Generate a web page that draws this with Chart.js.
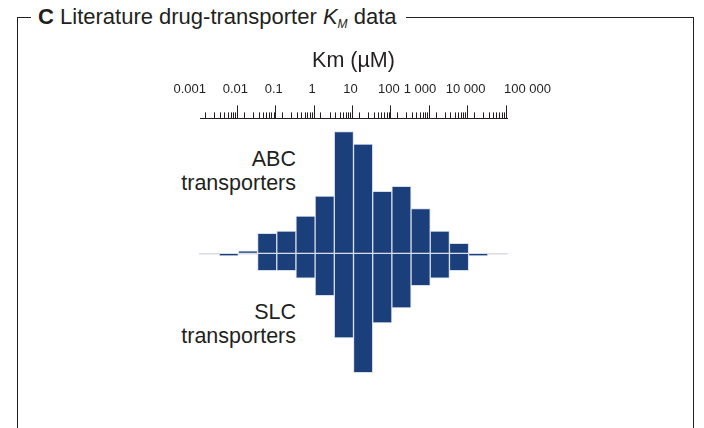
<!DOCTYPE html>
<html>
<head>
<meta charset="utf-8">
<script src="https://cdn.jsdelivr.net/npm/chart.js@4.4.1/dist/chart.umd.min.js"></script>
<style>
html,body{margin:0;padding:0;background:#fff;width:704px;height:428px;overflow:hidden;
  font-family:"Liberation Sans",Arial,Helvetica,sans-serif;color:#231f20;}
fieldset{position:absolute;left:17px;top:5px;width:677px;height:520px;margin:0;padding:0;
  border:1px solid #231f20;box-sizing:border-box;}
legend{margin-left:13px;padding:0 9px 0 7px;font-size:22px;line-height:24px;white-space:nowrap;}
legend sub{font-size:12px;line-height:0;vertical-align:-4px;}
.lbl{position:absolute;right:408px;text-align:right;font-size:21.5px;line-height:24px;white-space:nowrap;}
canvas{position:absolute;left:0;top:0;}
</style>
</head>
<body>
<fieldset><legend><b>C</b> Literature drug-transporter <i>K<sub>M</sub></i> data</legend></fieldset>
<div class="lbl" style="top:147px">ABC<br>transporters</div>
<div class="lbl" style="top:300px">SLC<br>transporters</div>
<canvas id="c" width="704" height="428"></canvas>
<script>
// Half-decade Km bins (µM)
const bins = ['0.001–0.003','0.003–0.01','0.01–0.03','0.03–0.1','0.1–0.3','0.3–1','1–3','3–10',
  '10–30','30–100','100–300','300–1 000','1 000–3 000','3 000–10 000','10 000–30 000','30 000–100 000'];
// Counts per bin
const abcCounts = [0,0,1,8,9,15,23,49,44,25,27,18,9,4,0,0];
const slcCounts = [0,1,0,7,7,10,17,34,48,28,22,13,10,7,1,0];
// Top axis
const decades = [-3,-2,-1,0,1,2,3,4,5];
const decadeLabels = ['0.001','0.01','0.1','1','10','100','1 000','10 000','100 000'];
const minorMultiples = [2,3,4,5,6,7,8,9];
const axisTitle = 'Km (µM)';

const FONT = '"Liberation Sans", Arial, Helvetica, sans-serif';
const INK = '#231f20';
const BAR = '#1b3f7b';
const BAR_EDGE = '#d6deea';

Chart.defaults.font.family = FONT;
Chart.defaults.color = INK;

const tickValues = [];
decades.forEach((d, i) => {
  tickValues.push(Math.pow(10, d));
  if (i < decades.length - 1) {
    minorMultiples.forEach(m => tickValues.push(Number((m * Math.pow(10, d)).toPrecision(12))));
  }
});
const isDecade = v => Math.abs(Math.log10(v) - Math.round(Math.log10(v))) < 1e-9;
// a few labels sit slightly off their ticks in the source figure (padding only)
const tickLabel = v => {
  const i = Math.round(Math.log10(v)) - decades[0];
  const t = decadeLabels[i];
  if (i === 0 || t === '1 000') return t + '    ';
  if (i === decadeLabels.length - 1) return '             ' + t;
  return t;
};

new Chart(document.getElementById('c'), {
  type: 'bar',
  data: {
    labels: bins,
    datasets: [
      {label: 'ABC transporters', data: abcCounts, backgroundColor: BAR, borderColor: BAR_EDGE,
       borderWidth: 1, borderSkipped: false, categoryPercentage: 1, barPercentage: 1},
      {label: 'SLC transporters', data: slcCounts.map(v => -v), backgroundColor: BAR, borderColor: BAR_EDGE,
       borderWidth: 1, borderSkipped: false, categoryPercentage: 1, barPercentage: 1}
    ]
  },
  options: {
    responsive: false,
    animation: false,
    devicePixelRatio: 1,
    layout: {padding: {left: 200, right: 197, top: 48, bottom: 38}},
    plugins: {legend: {display: false}, tooltip: {enabled: false}},
    scales: {
      x: {
        type: 'category', stacked: true, position: {y: 0},
        grid: {display: false, drawTicks: false},
        ticks: {display: false},
        border: {display: true, color: '#d9dde3', width: 1.5}
      },
      y: {stacked: true, display: false, min: -55, max: 54.3},
      xTop: {
        type: 'logarithmic', position: 'top', min: 0.001, max: 100000,
        afterBuildTicks: s => { s.ticks = tickValues.map(v => ({value: v, major: isDecade(v)})); },
        ticks: {
          autoSkip: false, maxRotation: 0, minRotation: 0, padding: 8, color: INK,
          labelOffset: -3,
          font: {size: 13},
          callback: v => isDecade(v) ? tickLabel(v) : ''
        },
        grid: {
          drawOnChartArea: false, drawTicks: true, tickLength: 13, color: INK, tickColor: INK, tickWidth: 1,
          tickBorderDash: c => (c.tick && isDecade(c.tick.value)) ? [] : [6.5, 7],
          tickBorderDashOffset: c => (c.tick && isDecade(c.tick.value)) ? 0 : 6.5
        },
        border: {display: true, color: INK, width: 1},
        title: {display: true, text: axisTitle, color: INK, font: {size: 21.5}, padding: {top: 0, bottom: 0}}
      }
    }
  }
});
</script>
</body>
</html>
